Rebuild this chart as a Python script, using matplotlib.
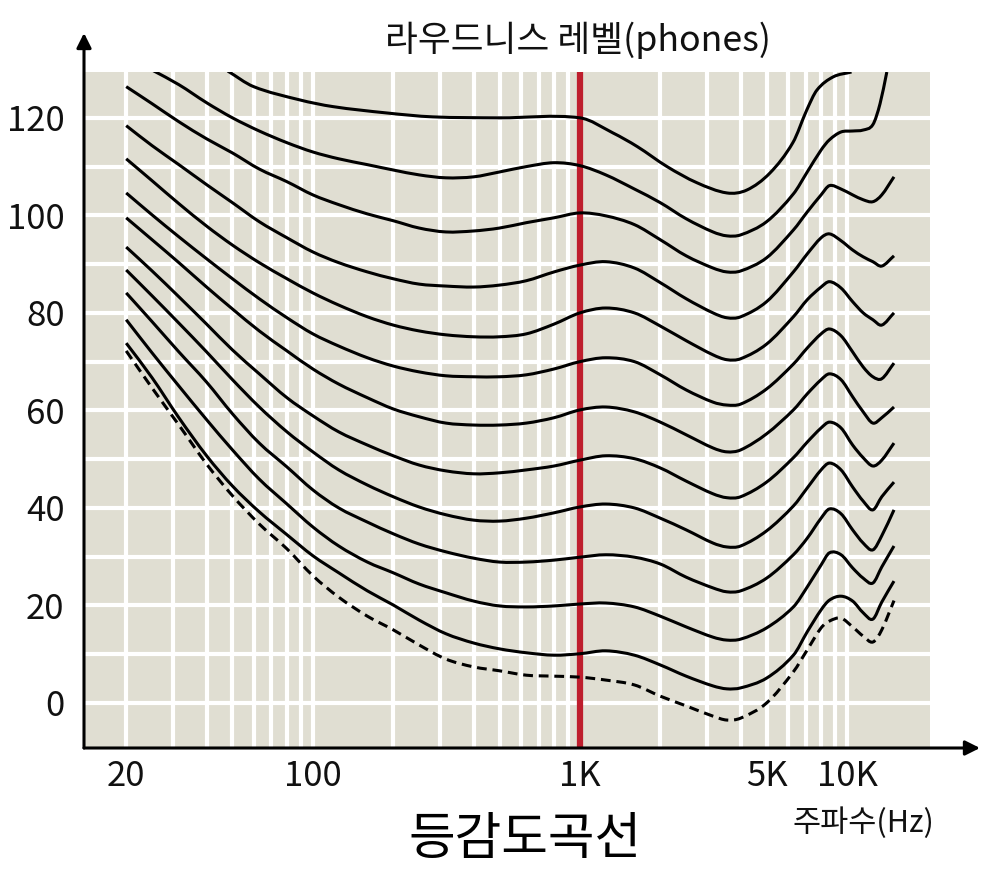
import numpy as np
import matplotlib
matplotlib.use("Agg")
import matplotlib.pyplot as plt
from matplotlib.path import Path
from matplotlib.patches import PathPatch

plt.rcParams['font.family'] = ['Noto Sans CJK KR', 'DejaVu Sans']

# 공통 주파수 (Hz)
FREQ = [20, 25, 31.5, 40, 50, 63, 80, 100, 125, 160, 200, 250, 315, 400, 500,
        630, 800, 1000, 1250, 1600, 2000, 2500, 3150, 3550, 4000, 5000, 6300,
        7100, 8000, 8600, 9500, 10500, 11500, 12500, 13500, 15000]

# 최소 가청 한계 (점선)
THRESHOLD = [72.2, 64.6, 57.0, 49.0, 42.5, 36.7, 31.6, 26.1, 21.7, 17.8, 15.0, 11.9,
             9.0, 7.4, 6.6, 5.7, 5.5, 5.3, 4.7, 3.7, 1.4, -0.6, -2.7, -3.5, -3.1,
             0.0, 6.4, 10.9, 15.4, 16.8, 17.4, 15.6, 13.7, 12.5, 15.0, 21.0]

P10 = [73.8, 66.7, 58.5, 50.7, 44.5, 39.2, 34.5, 30.2, 26.7, 23.0, 20.1, 17.0, 14.2,
       12.3, 11.1, 10.3, 9.8, 10.1, 10.7, 9.8, 7.8, 5.5, 3.5, 2.9, 3.1, 5.1, 9.8,
       14.6, 19.1, 21.1, 21.9, 20.9, 18.5, 17.2, 20.7, 25.0]
P20 = [78.6, 71.8, 65.0, 58.1, 51.9, 45.9, 40.8, 36.1, 32.2, 28.9, 26.7, 24.4, 22.6,
       20.9, 19.9, 19.7, 19.9, 20.3, 20.5, 19.7, 17.8, 15.6, 13.5, 12.9, 13.1, 15.4,
       19.7, 23.8, 28.3, 30.8, 30.4, 27.7, 25.6, 24.6, 27.9, 32.2]
P30 = [84.1, 78.2, 72.0, 65.8, 59.3, 53.3, 48.4, 43.7, 40.0, 37.1, 34.7, 32.6, 31.0,
       29.7, 28.9, 28.9, 29.3, 29.9, 30.4, 29.9, 28.5, 25.8, 23.6, 22.8, 23.0, 25.6,
       30.4, 33.8, 37.9, 39.8, 38.8, 35.5, 32.8, 31.4, 34.3, 39.6]
P40 = [88.8, 83.5, 77.9, 72.0, 66.3, 60.7, 55.6, 51.5, 47.8, 44.7, 42.3, 40.2, 38.6,
       37.5, 37.3, 37.9, 39.0, 40.2, 40.8, 40.0, 37.9, 35.5, 32.8, 32.0, 32.2, 35.3,
       40.4, 44.1, 47.8, 49.2, 47.8, 44.3, 41.4, 39.6, 42.3, 45.3]
P50 = [93.5, 88.6, 83.3, 77.7, 72.4, 67.5, 62.6, 58.9, 55.6, 52.9, 50.7, 48.8, 47.6,
       47.0, 47.2, 47.8, 48.6, 49.8, 50.7, 50.1, 48.2, 45.5, 42.9, 42.1, 42.3, 45.3,
       50.3, 53.5, 56.4, 57.6, 56.4, 52.9, 50.3, 48.6, 49.8, 53.3]
P60 = [99.5, 95.0, 90.3, 85.3, 80.8, 76.3, 72.2, 68.5, 65.4, 62.6, 60.3, 58.7, 57.4,
       57.0, 57.0, 57.4, 58.5, 60.1, 60.7, 59.7, 57.6, 55.0, 52.3, 51.5, 51.9, 55.2,
       60.1, 63.4, 66.3, 67.5, 66.3, 62.8, 59.7, 57.4, 58.5, 60.7]
P70 = [104.6, 100.1, 95.6, 91.1, 87.0, 82.9, 79.0, 75.7, 73.2, 70.8, 69.1, 67.9, 67.1,
       66.9, 66.9, 67.3, 68.5, 70.0, 70.8, 70.0, 67.3, 64.2, 61.7, 61.1, 61.3, 64.4,
       69.5, 72.8, 75.7, 76.7, 75.3, 72.0, 68.9, 66.9, 66.5, 69.7]
P80 = [111.6, 107.1, 102.4, 97.8, 93.9, 90.3, 87.0, 84.1, 81.6, 79.2, 77.5, 76.3, 75.5,
       75.1, 75.1, 75.7, 77.7, 80.0, 81.0, 80.0, 77.3, 74.3, 71.4, 70.4, 70.6, 73.6,
       79.2, 82.7, 85.3, 86.4, 85.1, 82.3, 80.0, 78.6, 77.5, 80.0]
P90 = [118.4, 114.3, 110.4, 106.3, 102.6, 98.7, 95.4, 92.5, 90.3, 88.4, 87.0, 85.9, 85.5,
       85.3, 85.7, 86.6, 88.4, 89.8, 90.5, 89.2, 86.2, 82.9, 80.0, 79.0, 79.2, 82.3,
       88.4, 92.1, 95.4, 96.2, 94.8, 92.9, 91.5, 90.5, 89.6, 91.7]
P100 = [126.4, 122.9, 119.2, 115.7, 112.8, 109.5, 106.9, 104.2, 102.2, 100.3, 98.9, 97.4,
        96.6, 96.8, 97.4, 98.5, 99.5, 100.5, 99.9, 98.1, 95.0, 91.7, 89.2, 88.4, 88.6,
        91.3, 97.0, 100.7, 104.2, 106.1, 105.4, 104.2, 103.2, 102.8, 104.2, 107.9]

# 위쪽 두 곡선은 그래프 위로 벗어나므로 따로
F110 = [25, 31.5, 40, 50, 63, 80, 100, 125, 160, 200, 250, 315, 400, 500, 630, 800,
        1000, 1250, 1600, 2000, 2500, 3150, 3550, 4000, 5000, 6300, 7100, 8000, 8600,
        9500, 10500, 11500, 12500, 13300, 14100]
P110 = [129.8, 126.8, 123.1, 120.0, 117.3, 114.9, 113.0, 111.6, 110.4, 109.3, 108.3,
        107.7, 107.9, 108.9, 110.0, 110.8, 110.2, 108.3, 105.4, 102.6, 99.3, 96.6, 95.8,
        96.0, 98.7, 104.4, 108.9, 113.4, 115.5, 117.1, 117.3, 117.5, 118.6, 122.9, 129.4]
F120 = [48, 60, 89, 119, 189, 281, 500, 1000, 1330, 1640, 2120, 2740, 3550, 4220, 5150,
        6270, 7070, 7720, 8880, 10400]
P120 = [129.6, 126.4, 123.7, 122.3, 121.0, 120.2, 120.0, 120.0, 116.9, 114.1, 110.0,
        106.7, 104.6, 105.2, 108.7, 114.9, 121.6, 125.7, 128.4, 129.4]

Y_TICKS = [0, 20, 40, 60, 80, 100, 120]
X_TICKS = [20, 100, 1000, 5000, 10000]
X_LABELS = ["20", "100", "1K", "5K", "10K"]
V_GRID = [20, 30, 40, 50, 60, 70, 80, 90, 100, 200, 300, 400, 500, 600, 700, 800,
          900, 1000, 2000, 3000, 4000, 5000, 6000, 7000, 8000, 9000, 10000]
H_GRID = list(range(0, 121, 10))


def smooth_path(freq, db):
    # 점을 지나는 부드러운 곡선 (log 주파수 축 기준 3차 에르미트 -> 베지어)
    x = np.log10(np.asarray(freq, float))
    y = np.asarray(db, float)
    n = len(x)
    m = np.empty(n)
    m[0] = (y[1] - y[0]) / (x[1] - x[0])
    m[-1] = (y[-1] - y[-2]) / (x[-1] - x[-2])
    m[1:-1] = (y[2:] - y[:-2]) / (x[2:] - x[:-2])
    verts = [(x[0], y[0])]
    codes = [Path.MOVETO]
    for i in range(n - 1):
        h = (x[i + 1] - x[i]) / 3
        verts += [(x[i] + h, y[i] + m[i] * h),
                  (x[i + 1] - h, y[i + 1] - m[i + 1] * h),
                  (x[i + 1], y[i + 1])]
        codes += [Path.CURVE4] * 3
    verts = [(10 ** vx, vy) for vx, vy in verts]
    return Path(verts, codes)


def draw_curve(ax, freq, db, **kw):
    p = PathPatch(smooth_path(freq, db), fill=False, edgecolor="black", lw=2.2,
                  zorder=3, transform=ax.transData, **kw)
    ax.add_patch(p)


W, H = 994, 892
fig = plt.figure(figsize=(W / 100, H / 100), dpi=100)
ax = fig.add_axes([84 / W, (H - 748) / H, (930 - 84) / W, (748 - 72) / H])
ax.set_xscale("log")
ax.set_xlim(13.9, 20460)
ax.set_ylim(-9.23, 129.4)
ax.set_facecolor("#e0ded2")
for s in ax.spines.values():
    s.set_visible(False)

for g in V_GRID:
    ax.axvline(g, color="white", lw=3, zorder=1)
for g in H_GRID:
    ax.axhline(g, color="white", lw=3, zorder=1)

ax.axvline(1000, color="#be1e2d", lw=4.5, zorder=2)

for c in [P10, P20, P30, P40, P50, P60, P70, P80, P90, P100]:
    draw_curve(ax, FREQ, c)
draw_curve(ax, F110, P110)
draw_curve(ax, F120, P120)
draw_curve(ax, FREQ, THRESHOLD, linestyle=(0, (3.2, 1.9)))

ax.set_xticks(X_TICKS)
ax.set_xticklabels(X_LABELS)
ax.set_xticks([], minor=True)
ax.set_yticks(Y_TICKS)
ax.tick_params(axis="both", length=0, labelsize=25, colors="#111111")
ax.tick_params(axis="y", pad=14)
ax.tick_params(axis="x", pad=8)

# 축 화살표
ax.annotate("", xy=(0, 1 + 39 / 676), xytext=(0, 0), xycoords="axes fraction",
            arrowprops=dict(arrowstyle="-|>", lw=2.2, color="black", mutation_scale=22,
                            shrinkA=0, shrinkB=0), annotation_clip=False)
ax.annotate("", xy=(1 + 50 / 846, 0), xytext=(0, 0), xycoords="axes fraction",
            arrowprops=dict(arrowstyle="-|>", lw=2.2, color="black", mutation_scale=22,
                            shrinkA=0, shrinkB=0), annotation_clip=False)

fig.text(578 / W, 1 - 40 / H, "라우드니스 레벨(phones)", ha="center", va="center",
         fontsize=25.7, color="#111111")
fig.text(863 / W, 1 - 823 / H, "주파수(Hz)", ha="center", va="center",
         fontsize=22, color="#111111")
fig.text(525 / W, 1 - 840 / H, "등감도곡선", ha="center", va="center",
         fontsize=36.5, color="black")

fig.savefig("out.png", dpi=100, facecolor="white")
